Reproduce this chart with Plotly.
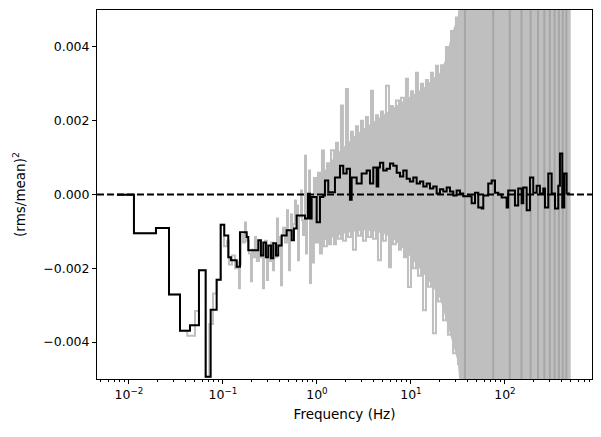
import plotly.graph_objects as go

# ---------------- data ----------------
# Rebinned (black) cross-spectrum: bin left-edge frequency (Hz) and power
black_freq = [0.00745, 0.0113, 0.01937, 0.02666, 0.03491, 0.04457, 0.05555, 0.06547, 0.07398, 0.0857,
              0.0946, 0.1033, 0.1139, 0.1216, 0.140, 0.1517, 0.1788, 0.1859, 0.2375, 0.2535,
              0.2685, 0.2865, 0.3034, 0.3243, 0.3428, 0.3664, 0.3876, 0.421, 0.4762, 0.538,
              0.569, 0.608, 0.745, 0.802, 0.842, 0.878, 0.9927, 1.076, 1.167, 1.216,
              1.319, 1.554, 1.757, 1.905, 2.07, 2.244, 2.34, 2.644, 2.989, 3.379,
              3.664, 3.972, 4.317, 4.49, 4.677, 5.073, 5.514, 5.98, 6.486, 7.05,
              7.64, 8.28, 9.0, 9.75, 10.58, 11.5, 12.47, 13.52, 14.69, 15.92,
              17.27, 18.77, 20.35, 22.06, 23.98, 26.0, 28.2, 30.6, 33.2, 36.0,
              44.2, 48.0, 52.0, 56.5, 58.8, 66.4, 72.2, 78.3, 84.9, 92.2,
              104.2, 108.3, 127.7, 138.4, 150.5, 156.6, 170.2, 184.5, 200.0, 217.3,
              235.5, 255.5, 266.4, 289.0, 314.0, 340.5, 369.0, 384.6, 407.0, 427.5,
              453.0, 491.0]
black_power = [-0.00001, -0.00105, -0.00091, -0.00271, -0.00369, -0.00354, -0.00205, -0.00494, -0.00312, -0.00231,
               -0.00082, -0.00111, -0.00170, -0.00178, -0.00196, -0.00102, -0.00115, -0.00151, -0.00124, -0.00165,
               -0.00130, -0.00170, -0.00138, -0.00173, -0.00132, -0.00165, -0.00138, -0.00111, -0.00097, -0.00124,
               -0.00092, -0.00057, -0.00065, 0.00002, -0.00065, -0.00007, -0.00075, -0.00007, -0.00003, 0.00038,
               0.00006, 0.00046, 0.00078, 0.00057, 0.00070, -0.00014, 0.00046, 0.00030, 0.00057, 0.00065,
               0.00030, 0.00073, 0.00022, 0.00073, 0.00086, 0.00065, 0.00070, 0.00084, 0.00078, 0.00059,
               0.00049, 0.00065, 0.00043, 0.00035, 0.00046, 0.00030, 0.00035, 0.00022, 0.00030, 0.00016,
               0.00022, 0.00003, 0.00014, 0.00008, 0.00019, 0.00008, -0.00003, 0.00011, 0.00003, -0.00005,
               -0.00024, 0.00005, -0.00035, -0.00038, -0.00003, 0.00030, 0.00038, 0.00005, 0.00000, -0.00008,
               -0.00035, 0.00011, -0.00030, 0.00016, -0.00024, 0.00019, -0.00043, 0.00046, 0.00005, 0.00024,
               0.00003, 0.00016, -0.00035, 0.00057, 0.00003, -0.00038, 0.00024, 0.00111, -0.00035, 0.00057,
               0.00003, 0.00003]

# Unbinned (grey) cross-spectrum, visible steps and spikes
grey_freq = [0.00745, 0.0113, 0.01937, 0.02666, 0.03491, 0.0417, 0.0504, 0.05555, 0.06547, 0.0715,
             0.0783, 0.0857, 0.0946,
             0.1025, 0.1104, 0.1159, 0.1247, 0.1343, 0.1409, 0.1479, 0.1516, 0.1554, 0.1633,
             0.1714, 0.1757, 0.1799, 0.1890, 0.1985, 0.2035, 0.2085, 0.2189, 0.2244, 0.2299,
             0.2415, 0.2536, 0.2664, 0.2731, 0.2798, 0.2938, 0.3012, 0.3086, 0.3241, 0.3404,
             0.3490, 0.3575, 0.3754, 0.3848, 0.3943, 0.4141, 0.4245, 0.4349, 0.4567, 0.4797,
             0.4917, 0.5038, 0.5164, 0.5291, 0.5423, 0.5557, 0.5836, 0.5982, 0.6129, 0.6282,
             0.6437, 0.6761, 0.6930, 0.7100, 0.7457, 0.7643, 0.7832, 0.8225, 0.8430, 0.8638,
             0.8845, 0.929, 0.976, 1.025, 1.076, 1.130, 1.187, 1.277, 1.341, 1.409,
             1.516, 1.593, 1.673, 1.800, 1.890, 2.035, 2.137, 2.300, 2.415, 2.600,
             2.731, 2.938, 3.086, 3.321, 3.487, 3.754, 3.943, 4.243, 4.457, 4.796,
             5.036, 5.420, 5.834, 6.127, 6.435, 6.924, 7.451, 7.826, 8.425, 8.849,
             9.292, 10.0, 10.50, 11.30, 11.87, 12.78, 13.42, 14.44, 15.17, 16.32,
             17.14, 18.45, 19.38, 20.85, 21.90, 23.57, 24.75, 26.64, 27.98, 30.10,
             31.62, 35.0]
grey_power = [-0.00001, -0.00105, -0.00091, -0.00271, -0.00369, -0.00383, -0.00316, -0.00205, -0.00494, -0.00351,
              -0.00268, -0.00231, -0.00082,
              -0.00140, -0.00125, -0.00190, -0.00165, -0.00200, -0.00182, -0.00254, -0.00190, -0.00110, -0.00130,
              -0.00076, -0.00110, -0.00125, -0.00160, -0.00235, -0.00150, -0.00170, -0.00115, -0.00150, -0.00180,
              -0.00125, -0.00170, -0.00254, -0.00165, -0.00125, -0.00232, -0.00140, -0.00180, -0.00130, -0.00205,
              -0.00140, -0.00170, -0.00065, -0.00140, -0.00115, -0.00246, -0.00110, -0.00090, -0.00130, -0.00043,
              -0.00100, -0.00205, -0.00110, -0.00054, -0.00120, -0.00080, -0.00016, -0.00090, -0.00030, -0.00178,
              -0.00060, 0.00011, -0.00070, -0.00110, 0.00105, -0.00160, -0.00060, 0.00065, -0.00240, -0.00030,
              -0.00184, 0.00045, -0.00130, 0.00059, -0.00160, 0.00119, -0.00140, 0.00085, -0.00135, 0.00120,
              -0.00135, 0.00140, -0.00120, 0.00241, -0.00125, 0.00286, -0.00115, 0.00170, -0.00150, 0.00185,
              -0.00112, 0.00200, -0.00125, 0.00210, -0.00115, 0.00281, -0.00120, 0.00215, -0.00178, 0.00225,
              -0.00125, 0.00295, -0.00197, 0.00240, -0.00135, 0.00255, -0.00150, 0.00262, -0.00170, 0.00314,
              -0.00251, 0.00280, -0.00200, 0.00330, -0.00220, 0.00300, -0.00314, 0.00310, -0.00250, 0.00330,
              -0.00376, 0.00349, -0.00290, 0.00350, -0.00341, 0.00400, -0.00380, 0.00443, -0.00430, 0.00480,
              -0.00460, 0.00030]

# Envelope of the dense grey noise band (upper / lower), up to the Nyquist frequency
band_freq = [0.885, 0.952, 1.216, 1.554, 1.985, 2.535, 3.24, 4.14, 5.29, 6.75,
             8.63, 11.0, 14.07, 17.97, 20.35, 22.95, 27.2, 31.5, 34.9, 500.0]
band_upper = [-0.00016, 0.00030, 0.00065, 0.00105, 0.00132, 0.00159, 0.00181, 0.00200, 0.00219, 0.00238,
              0.00257, 0.00273, 0.00292, 0.00319, 0.00330, 0.00362, 0.00435, 0.00484, 0.00600, 0.00600]
band_lower = [-0.00103, -0.00119, -0.00124, -0.00114, -0.00105, -0.00100, -0.00097, -0.00100, -0.00108, -0.00124,
              -0.00151, -0.00184, -0.00219, -0.00259, -0.00281, -0.00327, -0.00395, -0.00454, -0.00600, -0.00600]

# Darker grey vertical stripes in the high-frequency band (Hz)
stripe_freq = [37.5, 75.0, 112.5, 150.0, 187.5, 225.0, 262.5, 300.0, 337.5, 375.0, 412.5, 450.0]

xtick_vals = [0.01, 0.1, 1, 10, 100]
xtick_text = ["10<sup>\u22122</sup>", "10<sup>\u22121</sup>", "10<sup>0</sup>", "10<sup>1</sup>", "10<sup>2</sup>"]
ytick_vals = [-0.004, -0.002, 0.0, 0.002, 0.004]
ytick_text = ["\u22120.004", "\u22120.002", "0.000", "0.002", "0.004"]

x_range_log = [-2.340, 2.926]
y_range = [-0.005, 0.005]

GREY = "#bfbfbf"
DARK_GREY = "#a6a6a6"

# ---------------- figure ----------------
fig = go.Figure()

fig.add_trace(go.Scatter(
    x=band_freq + band_freq[::-1], y=band_upper + band_lower[::-1],
    fill="toself", fillcolor=GREY, mode="lines", line=dict(width=0, color=GREY),
    hoverinfo="skip", showlegend=False))

fig.add_trace(go.Scatter(
    x=grey_freq, y=grey_power, mode="lines",
    line=dict(color=GREY, width=2, shape="hv"), showlegend=False))

sx, sy = [], []
for f in stripe_freq:
    sx += [f, f, None]
    sy += [-0.006, 0.006, None]
fig.add_trace(go.Scatter(x=sx, y=sy, mode="lines",
                         line=dict(color=DARK_GREY, width=2), showlegend=False))

fig.add_trace(go.Scatter(
    x=[10 ** x_range_log[0], 10 ** x_range_log[1]], y=[0, 0], mode="lines",
    line=dict(color="black", width=2, dash="7px,3px"), showlegend=False))

fig.add_trace(go.Scatter(
    x=black_freq, y=black_power, mode="lines",
    line=dict(color="black", width=2, shape="hv"), showlegend=False))

minor_vals = [k * 10.0 ** d for d in range(-3, 3) for k in range(2, 10)]

axis_common = dict(showgrid=False, zeroline=False, showline=True, linecolor="black",
                   linewidth=1, mirror=True, ticks="outside", ticklen=4, tickwidth=1,
                   tickcolor="black", tickfont=dict(size=12.5, color="black"))

fig.update_layout(
    width=601, height=437,
    margin=dict(l=97, r=9, t=10, b=58),
    paper_bgcolor="white", plot_bgcolor="white",
    font=dict(family="DejaVu Sans", size=13, color="black"),
    showlegend=False,
    xaxis=dict(type="log", range=x_range_log, tickmode="array",
               tickvals=xtick_vals, ticktext=xtick_text,
               minor=dict(tickmode="array", tickvals=minor_vals, ticks="outside",
                          ticklen=2, tickcolor="black", showgrid=False),
               title=dict(text="Frequency (Hz)", standoff=8,
                          font=dict(size=13.5, color="black")),
               **axis_common),
    yaxis=dict(range=y_range, tickmode="array", tickvals=ytick_vals, ticktext=ytick_text,
               title=dict(text="(rms/mean)<sup>2</sup>", standoff=14,
                          font=dict(size=13.5, color="black")),
               **axis_common),
)

fig.write_html("out.html")
